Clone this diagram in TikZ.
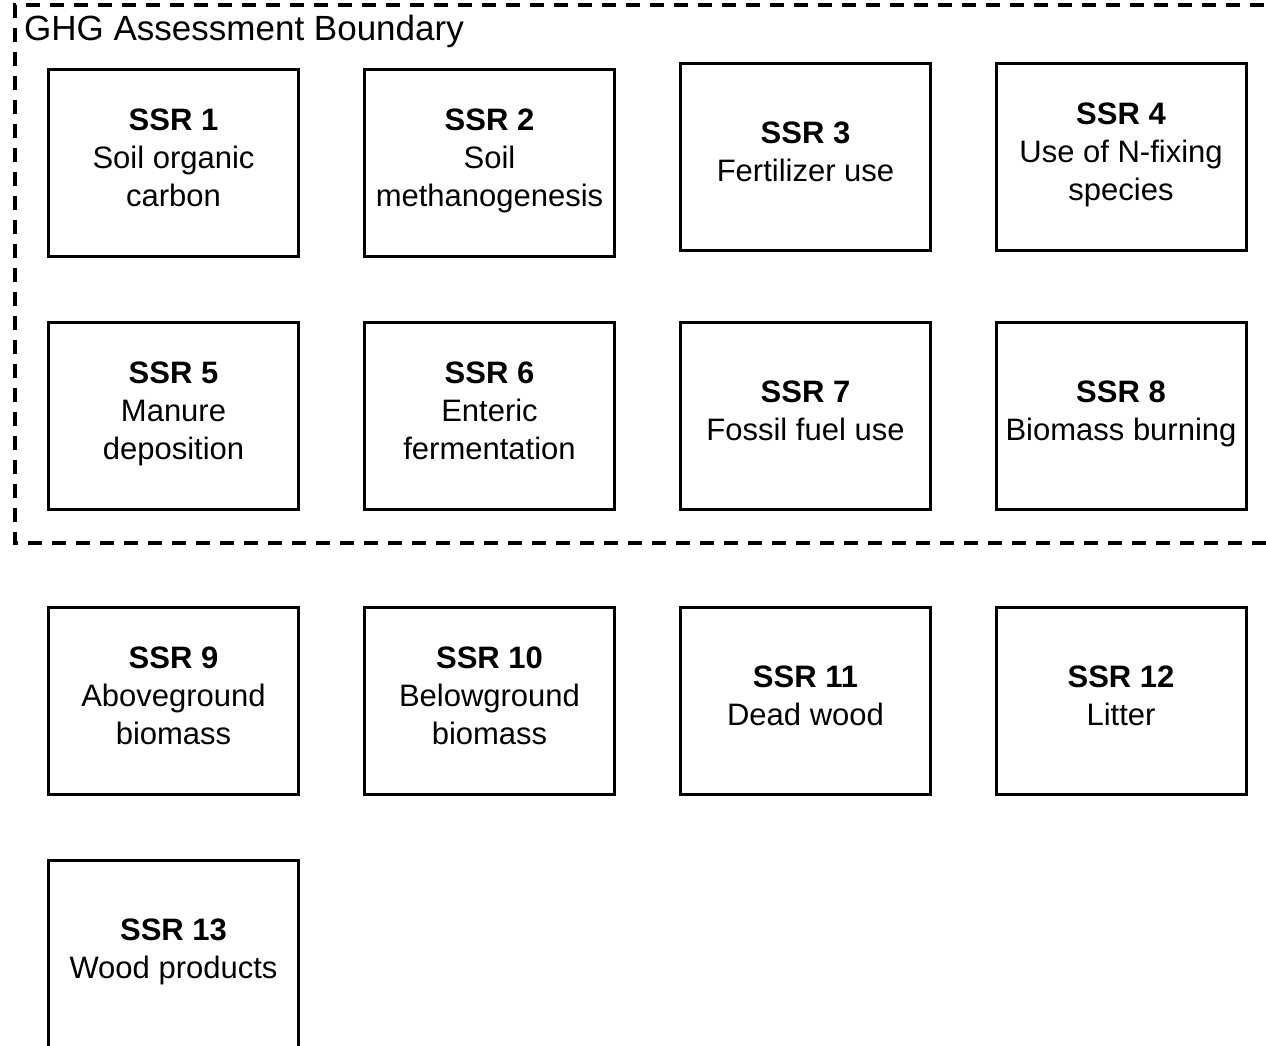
\documentclass[tikz,border=0pt]{standalone}
\usepackage{fontspec}
\setmainfont{Liberation Sans}

\begin{document}
\begin{tikzpicture}[x=1pt,y=-1pt,
  ssr/.style={rectangle,draw,line width=3pt,minimum width=250pt,minimum height=187pt,inner sep=2pt,align=center,font={\fontsize{31}{38}\selectfont},
    execute at begin node=\strut,execute at end node=\strut},
  boundary/.style={draw,line width=3.5pt,dash pattern=on 14pt off 10pt}]
\useasboundingbox (0,0) rectangle (1266,1046);
\draw[boundary] (1290,543) -- (15,543) -- (15,5) -- (1290,5);
\node[anchor=base west,inner sep=0pt,font={\fontsize{35}{42}\selectfont}] (label) at (24,41) {GHG Assessment Boundary};
\node[ssr] (1) at (173.5,163) {\textbf{SSR 1}\\Soil organic\\carbon};
\node[ssr] (2) at (489.5,163) {\textbf{SSR 2}\\Soil\\methanogenesis};
\node[ssr] (3) at (805.5,157) {\textbf{SSR 3}\\Fertilizer use};
\node[ssr] (4) at (1121,157) {\textbf{SSR 4}\\Use of N-fixing\\species};
\node[ssr] (5) at (173.5,416) {\textbf{SSR 5}\\Manure\\deposition};
\node[ssr] (6) at (489.5,416) {\textbf{SSR 6}\\Enteric\\fermentation};
\node[ssr] (7) at (805.5,416) {\textbf{SSR 7}\\Fossil fuel use};
\node[ssr] (8) at (1121,416) {\textbf{SSR 8}\\Biomass burning};
\node[ssr] (9) at (173.5,701) {\textbf{SSR 9}\\Aboveground\\biomass};
\node[ssr] (10) at (489.5,701) {\textbf{SSR 10}\\Belowground\\biomass};
\node[ssr] (11) at (805.5,701) {\textbf{SSR 11}\\Dead wood};
\node[ssr] (12) at (1121,701) {\textbf{SSR 12}\\Litter};
\node[ssr] (13) at (173.5,954) {\textbf{SSR 13}\\Wood products};
\end{tikzpicture}
\end{document}
